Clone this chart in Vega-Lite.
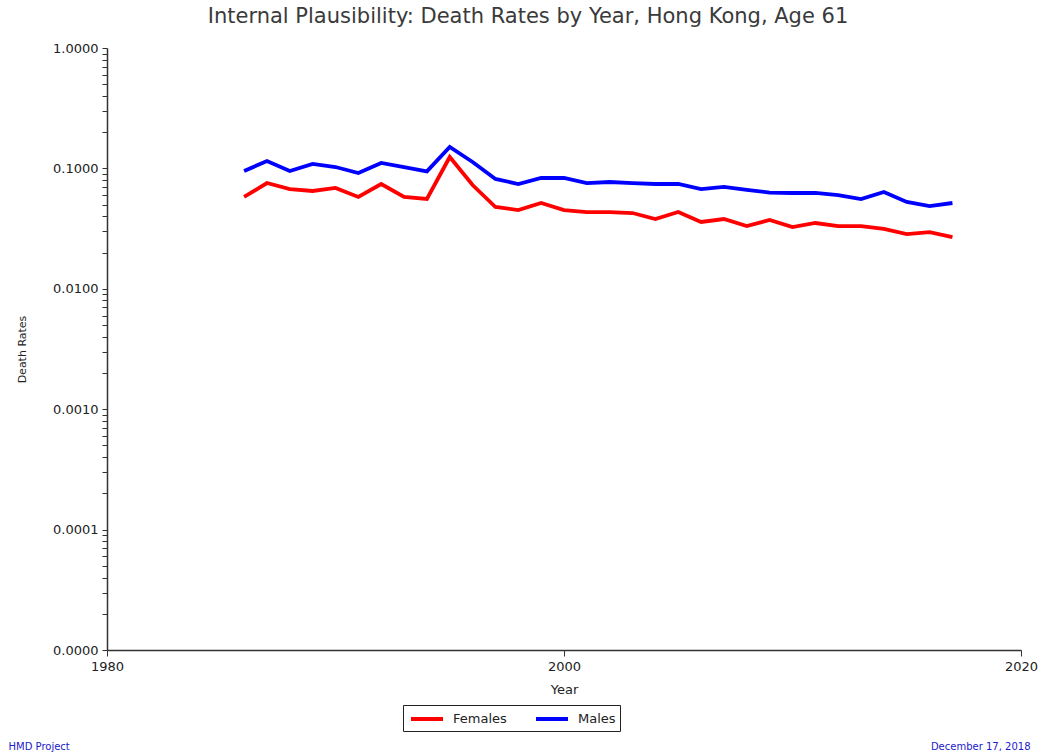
{
  "$schema": "https://vega.github.io/schema/vega-lite/v6.json",
  "width": 914,
  "height": 602,
  "autosize": {"type": "none"},
  "padding": {"left": 107, "top": 48, "right": 27, "bottom": 104},
  "background": "white",
  "title": {
    "text": "Internal Plausibility: Death Rates by Year, Hong Kong, Age 61",
    "fontSize": 21,
    "fontWeight": "normal",
    "color": "#3a3a3a",
    "anchor": "middle",
    "dx": -36,
    "offset": 15,
    "font": "DejaVu Sans"
  },
  "data": {
    "values": [
      {"year": 1986, "sex": "Females", "rate": 0.0579},
      {"year": 1987, "sex": "Females", "rate": 0.0756},
      {"year": 1988, "sex": "Females", "rate": 0.0674},
      {"year": 1989, "sex": "Females", "rate": 0.0649},
      {"year": 1990, "sex": "Females", "rate": 0.0688},
      {"year": 1991, "sex": "Females", "rate": 0.0579},
      {"year": 1992, "sex": "Females", "rate": 0.0742},
      {"year": 1993, "sex": "Females", "rate": 0.0579},
      {"year": 1994, "sex": "Females", "rate": 0.0557},
      {"year": 1995, "sex": "Females", "rate": 0.1244},
      {"year": 1996, "sex": "Females", "rate": 0.0728},
      {"year": 1997, "sex": "Females", "rate": 0.0478},
      {"year": 1998, "sex": "Females", "rate": 0.0451},
      {"year": 1999, "sex": "Females", "rate": 0.0516},
      {"year": 2000, "sex": "Females", "rate": 0.0451},
      {"year": 2001, "sex": "Females", "rate": 0.0434},
      {"year": 2002, "sex": "Females", "rate": 0.0434},
      {"year": 2003, "sex": "Females", "rate": 0.0426},
      {"year": 2004, "sex": "Females", "rate": 0.0380},
      {"year": 2005, "sex": "Females", "rate": 0.0434},
      {"year": 2006, "sex": "Females", "rate": 0.0359},
      {"year": 2007, "sex": "Females", "rate": 0.0380},
      {"year": 2008, "sex": "Females", "rate": 0.0332},
      {"year": 2009, "sex": "Females", "rate": 0.0373},
      {"year": 2010, "sex": "Females", "rate": 0.0326},
      {"year": 2011, "sex": "Females", "rate": 0.0352},
      {"year": 2012, "sex": "Females", "rate": 0.0332},
      {"year": 2013, "sex": "Females", "rate": 0.0332},
      {"year": 2014, "sex": "Females", "rate": 0.0314},
      {"year": 2015, "sex": "Females", "rate": 0.0285},
      {"year": 2016, "sex": "Females", "rate": 0.0296},
      {"year": 2017, "sex": "Females", "rate": 0.0269},
      {"year": 1986, "sex": "Males", "rate": 0.0951},
      {"year": 1987, "sex": "Males", "rate": 0.1152},
      {"year": 1988, "sex": "Males", "rate": 0.0951},
      {"year": 1989, "sex": "Males", "rate": 0.1088},
      {"year": 1990, "sex": "Males", "rate": 0.1027},
      {"year": 1991, "sex": "Males", "rate": 0.0916},
      {"year": 1992, "sex": "Males", "rate": 0.1109},
      {"year": 1993, "sex": "Males", "rate": 0.1027},
      {"year": 1994, "sex": "Males", "rate": 0.0945},
      {"year": 1995, "sex": "Males", "rate": 0.1506},
      {"year": 1996, "sex": "Males", "rate": 0.1130},
      {"year": 1997, "sex": "Males", "rate": 0.0817},
      {"year": 1998, "sex": "Males", "rate": 0.0742},
      {"year": 1999, "sex": "Males", "rate": 0.0832},
      {"year": 2000, "sex": "Males", "rate": 0.0832},
      {"year": 2001, "sex": "Males", "rate": 0.0756},
      {"year": 2002, "sex": "Males", "rate": 0.0771},
      {"year": 2003, "sex": "Males", "rate": 0.0756},
      {"year": 2004, "sex": "Males", "rate": 0.0742},
      {"year": 2005, "sex": "Males", "rate": 0.0742},
      {"year": 2006, "sex": "Males", "rate": 0.0674},
      {"year": 2007, "sex": "Males", "rate": 0.0701},
      {"year": 2008, "sex": "Males", "rate": 0.0662},
      {"year": 2009, "sex": "Males", "rate": 0.0630},
      {"year": 2010, "sex": "Males", "rate": 0.0625},
      {"year": 2011, "sex": "Males", "rate": 0.0625},
      {"year": 2012, "sex": "Males", "rate": 0.0601},
      {"year": 2013, "sex": "Males", "rate": 0.0557},
      {"year": 2014, "sex": "Males", "rate": 0.0637},
      {"year": 2015, "sex": "Males", "rate": 0.0526},
      {"year": 2016, "sex": "Males", "rate": 0.0487},
      {"year": 2017, "sex": "Males", "rate": 0.0516}
    ]
  },
  "layer": [
    {
      "mark": {"type": "line", "strokeWidth": 3.8},
      "encoding": {
        "x": {
          "field": "year",
          "type": "quantitative",
          "scale": {"domain": [1980, 2020], "nice": false, "zero": false},
          "axis": {
            "orient": "bottom",
            "title": "Year",
            "values": [1980, 2000, 2020],
            "format": "d",
            "grid": false,
            "labelFlush": false,
            "tickSize": 6,
            "labelPadding": 4,
            "labelFontSize": 13,
            "titleFontSize": 13,
            "titlePadding": 10
          }
        },
        "y": {
          "field": "rate",
          "type": "quantitative",
          "scale": {"type": "log", "domain": [0.00001, 1], "nice": false},
          "axis": {
            "orient": "left",
            "title": "Death Rates",
            "grid": false,
            "values": [0.00001, 0.00002, 0.00003, 0.00004, 0.00005, 0.00006, 0.00007, 0.00008, 0.00009,
                       0.0001, 0.0002, 0.0003, 0.0004, 0.0005, 0.0006, 0.0007, 0.0008, 0.0009,
                       0.001, 0.002, 0.003, 0.004, 0.005, 0.006, 0.007, 0.008, 0.009,
                       0.01, 0.02, 0.03, 0.04, 0.05, 0.06, 0.07, 0.08, 0.09,
                       0.1, 0.2, 0.3, 0.4, 0.5, 0.6, 0.7, 0.8, 0.9, 1],
            "labelExpr": "abs(log(datum.value)/LN10 - round(log(datum.value)/LN10)) < 0.000001 ? format(datum.value, '.4f') : ''",
            "labelOverlap": false,
            "labelFlush": false,
            "tickSize": 5,
            "labelPadding": 4,
            "labelFontSize": 13,
            "titleFontSize": 11,
            "titlePadding": 25
          }
        },
        "color": {
          "field": "sex",
          "type": "nominal",
          "scale": {"domain": ["Females", "Males"], "range": ["#ff0000", "#0000ff"]},
          "legend": {
            "title": null,
            "orient": "none",
            "legendX": 296,
            "legendY": 657,
            "direction": "horizontal",
            "gridAlign": "all",
            "columnPadding": 21,
            "padding": 4,
            "strokeColor": "#222222",
            "symbolType": "M-2,0H2",
            "symbolSize": 256,
            "symbolOffset": 10,
            "symbolStrokeWidth": 4,
            "labelFontSize": 13,
            "labelOffset": 16,
            "labelColor": "#222222"
          }
        }
      }
    },
    {
      "mark": {"type": "point", "opacity": 0},
      "encoding": {
        "x": {
          "field": "year",
          "type": "quantitative",
          "axis": {
            "orient": "top",
            "domain": false,
            "ticks": false,
            "labels": false,
            "grid": false,
            "title": "HMD Project",
            "titleX": -99,
            "titleY": 701,
            "titleAngle": 0,
            "titleAlign": "left",
            "titleBaseline": "alphabetic",
            "titleFontSize": 10,
            "titleFontWeight": "normal",
            "titleColor": "#1a1acc"
          }
        },
        "y": {
          "field": "rate",
          "type": "quantitative",
          "axis": {
            "orient": "right",
            "domain": false,
            "ticks": false,
            "labels": false,
            "grid": false,
            "title": "December 17, 2018",
            "titleX": 9,
            "titleY": 701,
            "titleAngle": 0,
            "titleAlign": "right",
            "titleBaseline": "alphabetic",
            "titleFontSize": 10,
            "titleFontWeight": "normal",
            "titleColor": "#1a1acc"
          }
        }
      }
    }
  ],
  "resolve": {"axis": {"x": "independent", "y": "independent"}},
  "config": {
    "view": {"stroke": null},
    "font": "DejaVu Sans",
    "axis": {
      "domainColor": "#333333",
      "domainWidth": 1.5,
      "tickColor": "#333333",
      "labelColor": "#222222",
      "titleColor": "#222222",
      "titleFontWeight": "normal",
      "labelFont": "DejaVu Sans",
      "titleFont": "DejaVu Sans"
    },
    "legend": {"labelFont": "DejaVu Sans"}
  }
}
